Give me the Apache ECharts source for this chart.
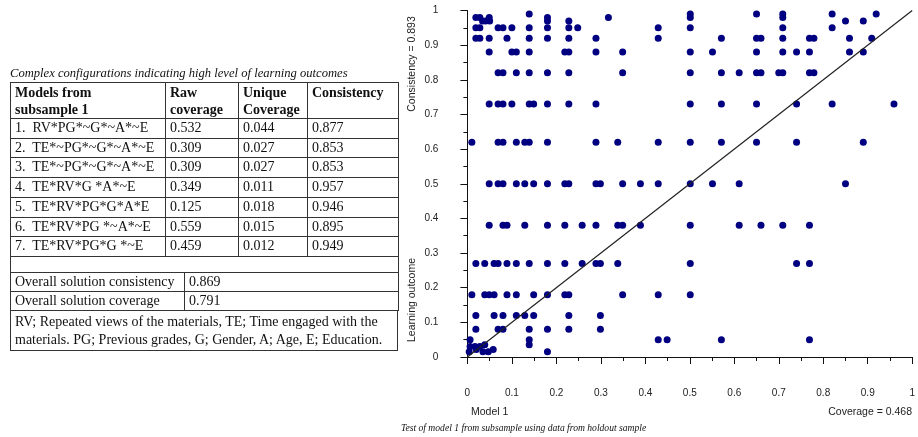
<!DOCTYPE html>
<html>
<head>
<meta charset="utf-8">
<script src="https://cdn.jsdelivr.net/npm/echarts@6/dist/echarts.min.js"></script>
<style>
  html, body { margin:0; padding:0; background:#fff; }
  #wrap { position:relative; width:918px; height:437px; overflow:hidden; }
  #chart { position:absolute; left:0; top:0; width:918px; height:437px; }
  #tbl { position:absolute; left:10px; top:66px; width:388px; font-family:"Liberation Serif","Times New Roman",serif; font-size:14px; color:#111; }
  #tbl .cap { font-style:italic; font-size:12.6px; line-height:14px; height:16px; white-space:nowrap; }
  #tbl table { border-collapse:collapse; width:388px; table-layout:fixed; }
  #tbl td { border:1px solid #333; padding:0 0 0 4px; line-height:18.7px; height:18.7px; white-space:nowrap; overflow:hidden; vertical-align:middle; }
  #tbl th { border:1px solid #333; padding:1px 0 0 4px; line-height:17px; font-weight:bold; text-align:left; vertical-align:top; white-space:nowrap; overflow:hidden; }
  #tbl .t2, #tbl .t3 { margin-top:-1px; }
  #tbl .blank td { height:15px; line-height:15px; }
  #tbl .t2 td { height:18px; line-height:18px; }
</style>
</head>
<body>
<div id="wrap">
  <div id="chart"></div>
  <div id="tbl"></div>
</div>
<script>
// ---------- Table data ----------
const tableCaption = "Complex configurations indicating high level of learning outcomes";
const tableHeaders = [["Models from", "subsample 1"], ["Raw", "coverage"], ["Unique", "Coverage"], ["Consistency", ""]];
const modelNames = ["1.\u00a0 RV*PG*~G*~A*~E", "2.\u00a0 TE*~PG*~G*~A*~E", "3.\u00a0 TE*~PG*~G*~A*~E", "4.\u00a0 TE*RV*G *A*~E", "5.\u00a0 TE*RV*PG*G*A*E", "6.\u00a0 TE*RV*PG *~A*~E", "7.\u00a0 TE*RV*PG*G *~E"];
const rawCoverage = ["0.532", "0.309", "0.309", "0.349", "0.125", "0.559", "0.459"];
const uniqueCoverage = ["0.044", "0.027", "0.027", "0.011", "0.018", "0.015", "0.012"];
const consistencyVals = ["0.877", "0.853", "0.853", "0.957", "0.946", "0.895", "0.949"];
const overallLabels = ["Overall solution consistency", "Overall solution coverage"];
const overallValues = ["0.869", "0.791"];
const noteLines = ["RV; Repeated views of the materials, TE; Time engaged with the", "materials. PG; Previous grades, G; Gender, A; Age, E; Education."];

// ---------- Scatter data (Model 1 coverage vs learning outcome) ----------
const outcomeLevels = [0.99, 0.98, 0.97, 0.95, 0.92, 0.88, 0.82, 0.73, 0.62, 0.50, 0.38, 0.27, 0.18, 0.12, 0.08, 0.05];
const coverageAtLevel = [
  [0.139, 0.501, 0.650, 0.709, 0.820, 0.919],
  [0.019, 0.028, 0.049, 0.180, 0.317, 0.501, 0.709],
  [0.034, 0.041, 0.050, 0.180, 0.228, 0.850, 0.890],
  [0.019, 0.028, 0.069, 0.080, 0.100, 0.139, 0.180, 0.228, 0.248, 0.429, 0.501, 0.709, 0.820],
  [0.019, 0.028, 0.049, 0.089, 0.139, 0.180, 0.228, 0.289, 0.429, 0.571, 0.650, 0.660, 0.709, 0.769, 0.779, 0.859, 0.909],
  [0.049, 0.100, 0.110, 0.139, 0.219, 0.228, 0.289, 0.349, 0.501, 0.551, 0.650, 0.709, 0.740, 0.769, 0.859, 0.890],
  [0.069, 0.080, 0.110, 0.139, 0.180, 0.228, 0.349, 0.501, 0.571, 0.611, 0.650, 0.660, 0.700, 0.709, 0.769, 0.779],
  [0.049, 0.069, 0.080, 0.100, 0.139, 0.149, 0.180, 0.228, 0.289, 0.501, 0.571, 0.650, 0.740, 0.820, 0.959],
  [0.010, 0.069, 0.080, 0.110, 0.129, 0.139, 0.180, 0.289, 0.338, 0.429, 0.501, 0.571, 0.650, 0.740, 0.890],
  [0.049, 0.069, 0.080, 0.110, 0.129, 0.149, 0.180, 0.219, 0.228, 0.289, 0.299, 0.349, 0.389, 0.429, 0.501, 0.551, 0.611, 0.850],
  [0.049, 0.080, 0.089, 0.129, 0.180, 0.219, 0.258, 0.289, 0.338, 0.349, 0.389, 0.501, 0.611, 0.660, 0.709, 0.769],
  [0.019, 0.039, 0.060, 0.069, 0.089, 0.110, 0.139, 0.180, 0.219, 0.258, 0.289, 0.299, 0.338, 0.501, 0.740, 0.769],
  [0.010, 0.039, 0.049, 0.060, 0.089, 0.110, 0.149, 0.180, 0.219, 0.228, 0.349, 0.429, 0.501],
  [0.019, 0.060, 0.080, 0.110, 0.129, 0.149, 0.228, 0.299],
  [0.019, 0.069, 0.080, 0.139, 0.180, 0.228, 0.299],
  [0.006, 0.139, 0.429, 0.449, 0.571, 0.769]
];
// small cluster near the origin
const lowClusterX = [0.139, 0.180, 0.006, 0.017, 0.028, 0.039, 0.035, 0.047, 0.058, 0.004, 0.020];
const lowClusterY = [0.035, 0.015, 0.030, 0.030, 0.030, 0.035, 0.015, 0.015, 0.022, 0.015, 0.022];

const xTicks = { min: 0, max: 1, interval: 0.1 };
const yTicks = { min: 0, max: 1, interval: 0.1 };
const diagonal = [[0, 0], [1, 1]];

const yNameTop = "Consistency = 0.893";
const yNameBottom = "Learning outcome";
const xNameLeft = "Model 1";
const xNameRight = "Coverage = 0.468";
const figureCaption = "Test of model 1 from subsample using data from holdout sample";

// ---------- Build table ----------
(function buildTable() {
  let h = '<div class="cap">' + tableCaption + '</div>';
  h += '<table class="t1"><colgroup><col style="width:155px"><col style="width:73px"><col style="width:69px"><col style="width:91px"></colgroup>';
  h += '<tr>' + tableHeaders.map(c => '<th>' + c[0] + '<br>' + (c[1] || '&nbsp;') + '</th>').join('') + '</tr>';
  for (let i = 0; i < modelNames.length; i++) {
    h += '<tr><td>' + modelNames[i] + '</td><td>' + rawCoverage[i] + '</td><td>' + uniqueCoverage[i] + '</td><td>' + consistencyVals[i] + '</td></tr>';
  }
  h += '<tr class="blank"><td colspan="4"></td></tr></table>';
  h += '<table class="t2"><colgroup><col style="width:174px"><col style="width:214px"></colgroup>';
  for (let i = 0; i < overallLabels.length; i++) {
    h += '<tr><td>' + overallLabels[i] + '</td><td>' + overallValues[i] + '</td></tr>';
  }
  h += '</table>';
  h += '<table class="t3"><tr><td style="line-height:18px;height:38px;padding-top:1px">' + noteLines.join('<br>') + '</td></tr></table>';
  document.getElementById('tbl').innerHTML = h;
})();

// ---------- Build chart ----------
const scatterData = [];
outcomeLevels.forEach((lv, i) => coverageAtLevel[i].forEach(x => scatterData.push([x, lv])));
lowClusterX.forEach((x, i) => scatterData.push([x, lowClusterY[i]]));

const chart = echarts.init(document.getElementById('chart'), null, { renderer: 'canvas' });
const axisFont = { fontFamily: 'Liberation Sans, Arial, sans-serif', fontSize: 10, color: '#222' };
chart.setOption({
  animation: false,
  backgroundColor: '#fff',
  grid: { left: 467.4, right: 1.4, top: 10.5, bottom: 80, containLabel: false },
  xAxis: {
    type: 'value', min: xTicks.min, max: xTicks.max, interval: xTicks.interval,
    offset: 15,
    axisLine: { show: true, lineStyle: { color: '#111', width: 1 } },
    axisTick: { show: true, length: 7, lineStyle: { color: '#111' } },
    minorTick: { show: true, splitNumber: 2, length: 4, lineStyle: { color: '#111' } },
    splitLine: { show: false },
    axisLabel: Object.assign({ margin: 16, showMinLabel: true, showMaxLabel: true }, axisFont)
  },
  yAxis: {
    type: 'value', min: yTicks.min, max: yTicks.max, interval: yTicks.interval,
    offset: 15,
    axisLine: { show: true, lineStyle: { color: '#111', width: 1 } },
    axisTick: { show: true, length: 7, lineStyle: { color: '#111' } },
    minorTick: { show: true, splitNumber: 2, length: 4, lineStyle: { color: '#111' } },
    splitLine: { show: false },
    axisLabel: Object.assign({ margin: 14, showMinLabel: true, showMaxLabel: true }, axisFont)
  },
  series: [
    {
      type: 'scatter', data: scatterData, symbol: 'circle', symbolSize: 7,
      itemStyle: { color: '#000080', opacity: 1 }, z: 2, silent: true
    },
    {
      type: 'line', data: diagonal, symbol: 'none', z: 3, silent: true,
      lineStyle: { color: '#222', width: 1.2 }
    }
  ],
  graphic: [
    { type: 'text', x: 412, y: 64, rotation: Math.PI / 2, style: { text: yNameTop, fill: '#222', font: '10.5px "Liberation Sans", Arial, sans-serif', align: 'center', verticalAlign: 'middle' } },
    { type: 'text', x: 412, y: 300, rotation: Math.PI / 2, style: { text: yNameBottom, fill: '#222', font: '10.5px "Liberation Sans", Arial, sans-serif', align: 'center', verticalAlign: 'middle' } },
    { type: 'text', x: 471, y: 412, style: { text: xNameLeft, fill: '#222', font: '10.5px "Liberation Sans", Arial, sans-serif', align: 'left', verticalAlign: 'middle' } },
    { type: 'text', x: 912, y: 412, style: { text: xNameRight, fill: '#222', font: '10.5px "Liberation Sans", Arial, sans-serif', align: 'right', verticalAlign: 'middle' } },
    { type: 'text', x: 401, y: 428, style: { text: figureCaption, fill: '#111', font: 'italic 9.6px "Liberation Serif", "Times New Roman", serif', align: 'left', verticalAlign: 'middle' } }
  ]
});
</script>
</body>
</html>
